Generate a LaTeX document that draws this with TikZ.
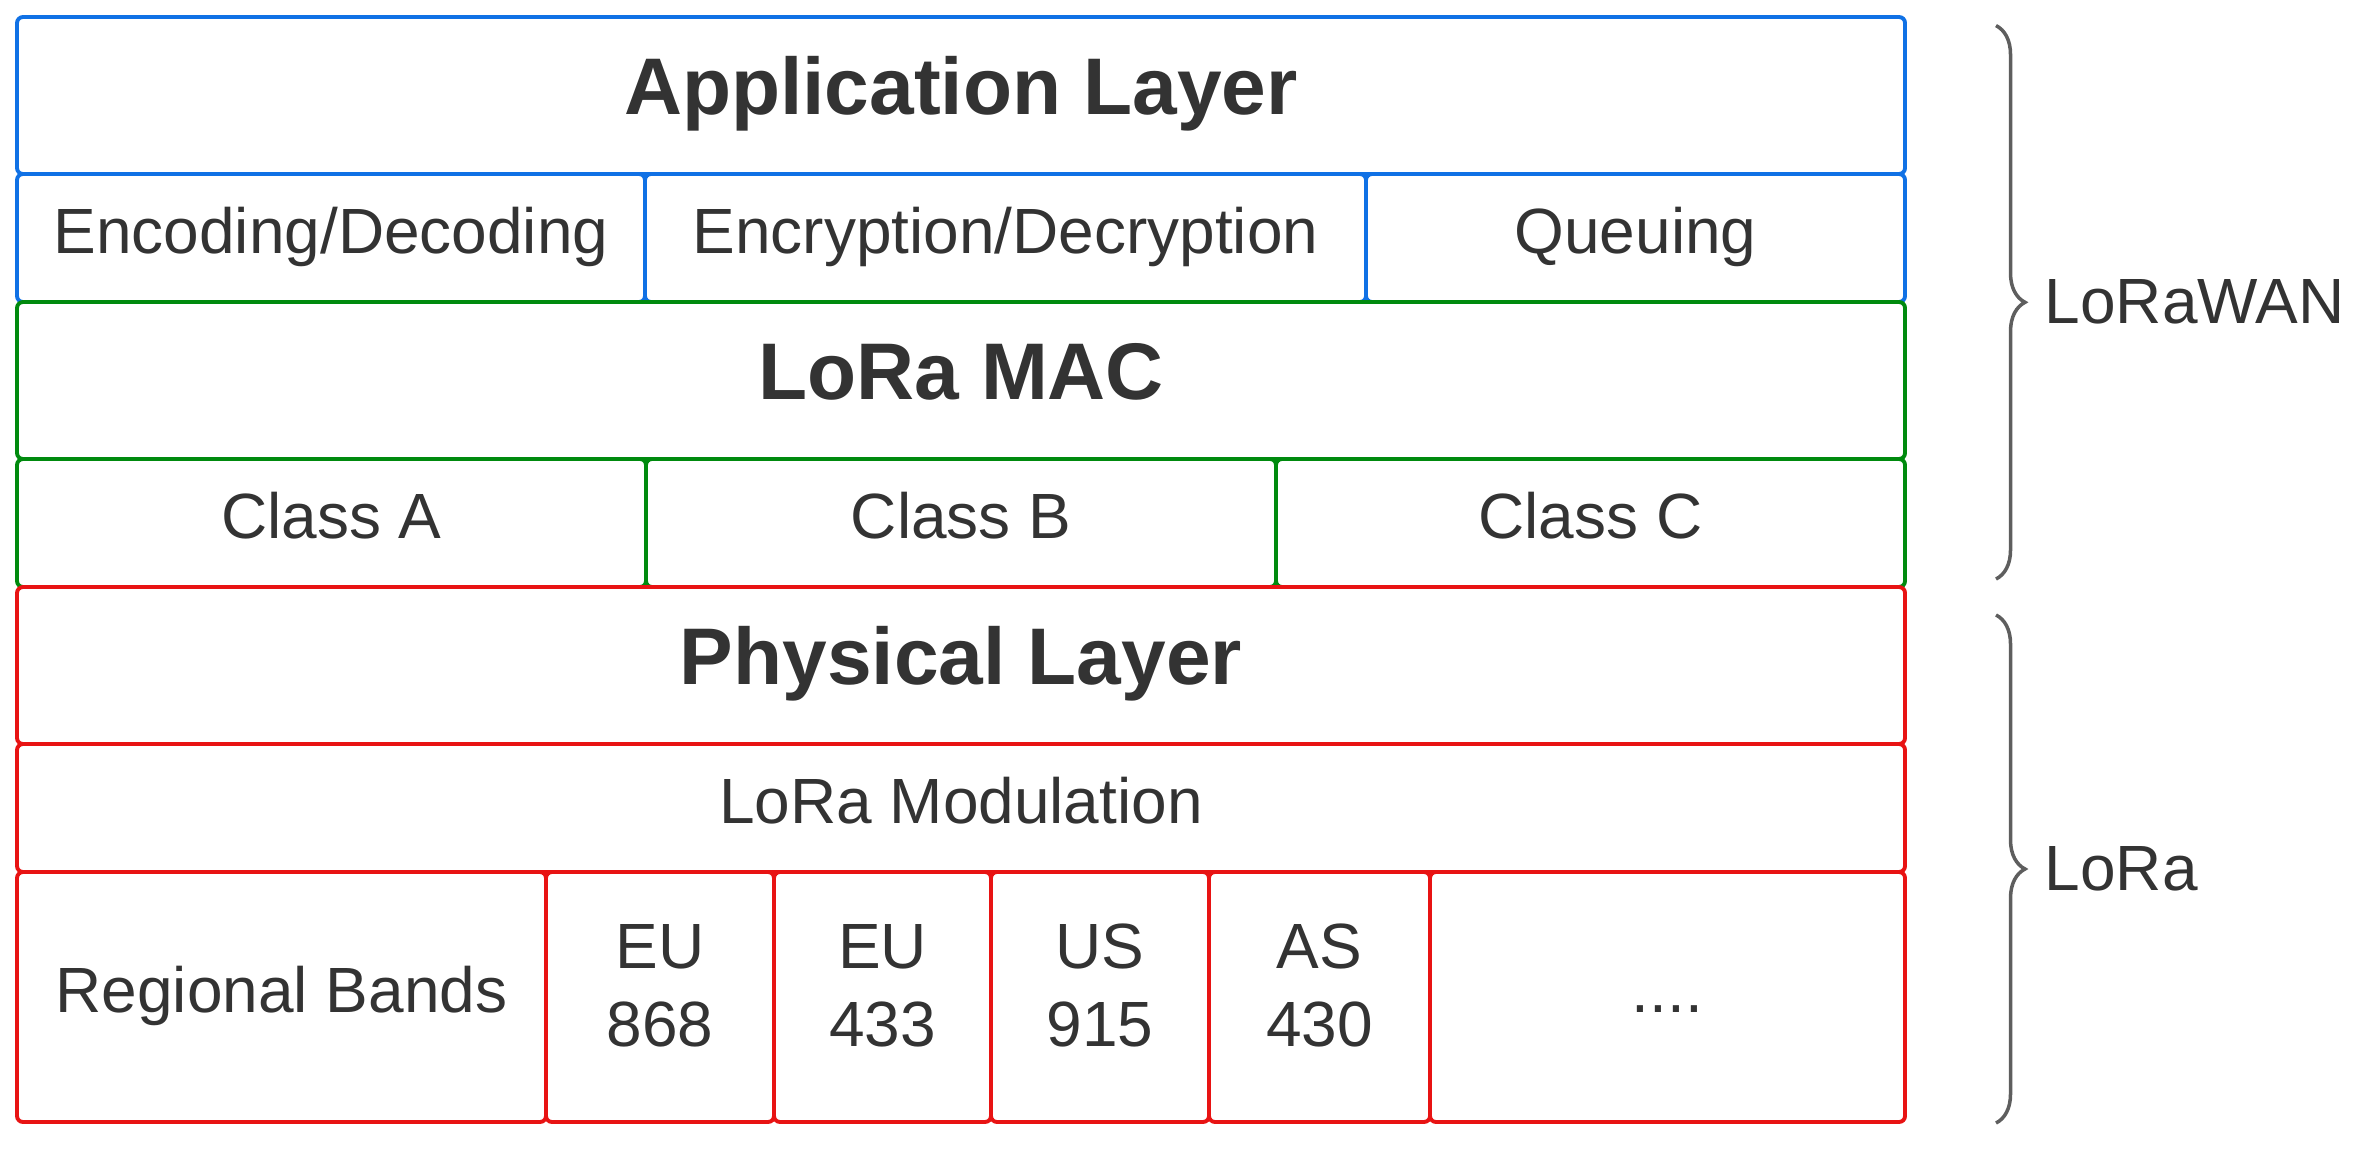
\documentclass[tikz,border=0pt]{standalone}
\usepackage{fontspec}
\setmainfont{Liberation Sans}
\usetikzlibrary{decorations.pathreplacing}
\definecolor{appblue}{HTML}{1071E5}
\definecolor{macgreen}{HTML}{008A0E}
\definecolor{phyred}{HTML}{E81313}
\definecolor{txtgray}{HTML}{333333}
\definecolor{bracegray}{HTML}{5E5E5E}

\begin{document}
\begin{tikzpicture}[
  cell/.style={draw, line width=1.1pt, rounded corners=0.06cm, inner sep=0pt, outer sep=0pt,
    text=txtgray, align=center, font=\fontsize{18.2}{22.2}\selectfont,
    execute at begin node=\strut, execute at end node=\strut},
  head/.style={font=\fontsize{22.85}{27.4}\selectfont\bfseries},
  appcell/.style={cell, draw=appblue},
  maccell/.style={cell, draw=macgreen},
  phycell/.style={cell, draw=phyred},
  sidebrace/.style={draw=bracegray, line width=1pt, decorate,
    decoration={brace, amplitude=0.29cm}},
  sidelabel/.style={anchor=west, inner sep=0pt, text=txtgray, font=\fontsize{18.2}{22.2}\selectfont}]
\useasboundingbox (0,0) rectangle (23.65,-11.52);

\node[appcell, head, minimum width=18.88cm, minimum height=1.57cm] (app) at (9.61,-0.955) {Application Layer};
\node[appcell, minimum width=6.28cm, minimum height=1.28cm] (encdec) at (3.31,-2.38) {Encoding/Decoding};
\node[appcell, minimum width=7.21cm, minimum height=1.28cm] (encrypt) at (10.055,-2.38) {Encryption/Decryption};
\node[appcell, minimum width=5.39cm, minimum height=1.28cm] (queue) at (16.355,-2.38) {Queuing};

\node[maccell, head, minimum width=18.88cm, minimum height=1.57cm] (mac) at (9.61,-3.805) {LoRa MAC};
\node[maccell, minimum width=6.29cm, minimum height=1.28cm] (clsa) at (3.315,-5.23) {Class A};
\node[maccell, minimum width=6.30cm, minimum height=1.28cm] (clsb) at (9.61,-5.23) {Class B};
\node[maccell, minimum width=6.29cm, minimum height=1.28cm] (clsc) at (15.905,-5.23) {Class C};

\node[phycell, head, minimum width=18.88cm, minimum height=1.57cm] (phy) at (9.61,-6.655) {Physical Layer};
\node[phycell, minimum width=18.88cm, minimum height=1.28cm] (mod) at (9.61,-8.08) {LoRa Modulation};
\node[phycell, minimum width=5.29cm, minimum height=2.50cm] (bands) at (2.815,-9.97) {Regional Bands};
\node[phycell, minimum width=2.28cm, minimum height=2.50cm] (eu868) at (6.60,-9.97) {EU\\868};
\node[phycell, minimum width=2.17cm, minimum height=2.50cm] (eu433) at (8.825,-9.97) {EU\\433};
\node[phycell, minimum width=2.18cm, minimum height=2.50cm] (us915) at (11.00,-9.97) {US\\915};
\node[phycell, minimum width=2.21cm, minimum height=2.50cm] (as430) at (13.195,-9.97) {AS\\430};
\node[phycell, minimum width=4.75cm, minimum height=2.50cm] (more) at (16.675,-9.97) {....};

\coordinate (wantop) at (19.96,-0.256);
\coordinate (wanbot) at (19.96,-5.79);
\coordinate (loratop) at (19.96,-6.15);
\coordinate (lorabot) at (19.96,-11.23);
\draw[sidebrace] (wantop) -- (wanbot) node[sidelabel, midway, xshift=0.47cm] (lorawan) {LoRaWAN};
\draw[sidebrace] (loratop) -- (lorabot) node[sidelabel, midway, xshift=0.47cm] (lora) {LoRa};
\end{tikzpicture}
\end{document}
